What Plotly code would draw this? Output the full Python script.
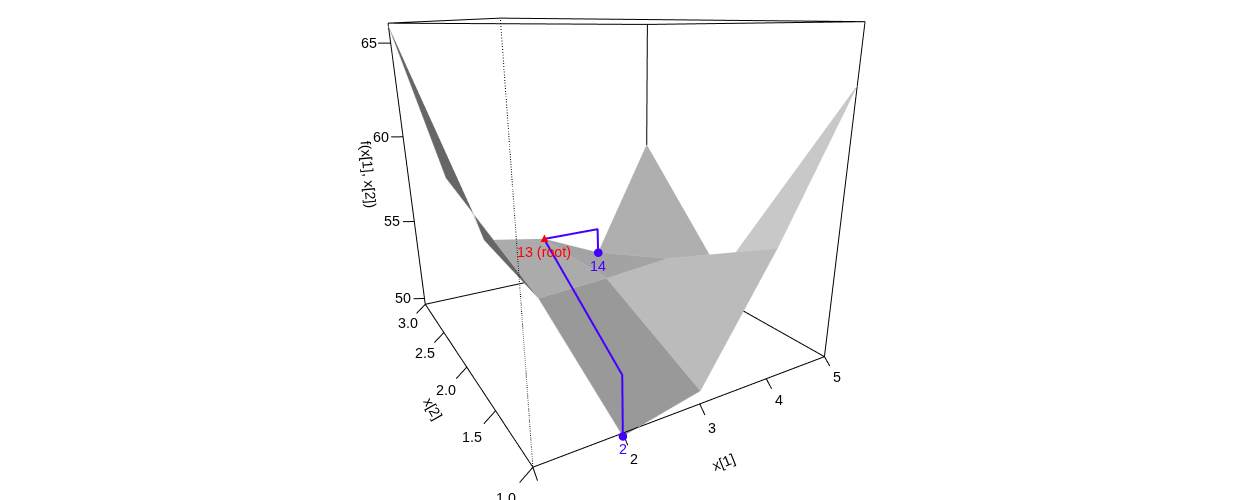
import plotly.graph_objects as go

# ---- data ----------------------------------------------------------------
x1_values = [1, 2, 3, 4, 5]
x2_values = [1, 2, 3]
# f(x[1], x[2]): rows follow x2_values, columns follow x1_values (None: not drawn)
z_row_x2_1 = [None, 49.44, 50.29, 56.39, 63.33]
z_row_x2_2 = [59.39, 52.45, 52.69, 53.06, 51.23]
z_row_x2_3 = [65.85, 53.09, 52.44, 50.68, 58.02]
z_grid = [z_row_x2_1, z_row_x2_2, z_row_x2_3]

# one grey per grid cell (rows follow x2 cells, columns follow x1 cells)
cell_grey_x2_12 = [None, "#999999", "#bbbbbb", "#c8c8c8"]
cell_grey_x2_23 = ["#666666", "#ababab", "#a3a3a3", "#afafaf"]
cell_grey = [cell_grey_x2_12, cell_grey_x2_23]

x1_ticks = [1, 2, 3, 4, 5]
x2_ticks = [1.0, 1.5, 2.0, 2.5, 3.0]
z_ticks = [50, 55, 60, 65]
box_x1 = (1, 5)
box_x2 = (1, 3)
box_z = (49.6, 66.0)

root_point = (3, 3, 52.44)
child_14 = (4, 3, 50.68)
child_2 = (2, 1, 49.44)

BLUE = "#4400ff"
RED = "#ff0000"
FONT = "Liberation Sans"
FS = 14.3

# ---- view --------------------------------------------------------------
RANGE_X = [0, 6]
RANGE_Y = [0, 4]
RANGE_Z = [40, 72]
scale = (0.25943, 0.55719, 0.06376)
aspect = dict(x=scale[0] * 6, y=scale[1] * 4, z=scale[2] * 32)
camera = dict(
    eye=dict(x=-0.9384, y=-1.7403, z=0.6171),
    center=dict(x=0.0312, y=-0.1558, z=-0.0612),
    up=dict(x=-0.0068, y=0.0142, z=1.0),
    projection=dict(type="perspective"),
)
hidden = dict(visible=False, showspikes=False)


def scene_layout():
    return dict(
        domain=dict(x=[0.026, 1], y=[0, 1]),
        xaxis=dict(range=RANGE_X, **hidden),
        yaxis=dict(range=RANGE_Y, **hidden),
        zaxis=dict(range=RANGE_Z, **hidden),
        aspectmode="manual",
        aspectratio=aspect,
        camera=camera,
        bgcolor="rgba(0,0,0,0)",
    )


# ---- surface -----------------------------------------------------------
vx, vy, vz, index = [], [], [], {}
for j, x2 in enumerate(x2_values):
    for i, x1 in enumerate(x1_values):
        if z_grid[j][i] is not None:
            index[(i, j)] = len(vx)
            vx.append(x1)
            vy.append(x2)
            vz.append(z_grid[j][i])

ti, tj, tk, face_colors = [], [], [], []


def tri(a, b, c, colour):
    ti.append(a)
    tj.append(b)
    tk.append(c)
    face_colors.append(colour)


ex, ey, ez = [], [], []
for j in range(len(x2_values) - 1):
    for i in range(len(x1_values) - 1):
        colour = cell_grey[j][i]
        if colour is None:
            continue
        p00, p10, p11, p01 = index[(i, j)], index[(i + 1, j)], index[(i + 1, j + 1)], index[(i, j + 1)]
        for a in (p00, p10, p11, p01, p00):
            ex.append(vx[a])
            ey.append(vy[a])
            ez.append(vz[a])
        ex.append(None)
        ey.append(None)
        ez.append(None)
        if (i, j) == (0, 1):
            # this cell folds over itself in view: cut it where its outlines cross
            t = 0.27
            vx.append(vx[p00] + t * (vx[p10] - vx[p00]))
            vy.append(vy[p00] + t * (vy[p10] - vy[p00]))
            vz.append(vz[p00] + t * (vz[p10] - vz[p00]))
            cross = len(vx) - 1
            tri(p01, p00, cross, colour)
            tri(cross, p10, p11, colour)
        else:
            tri(p00, p10, p11, colour)
            tri(p00, p11, p01, colour)

fig = go.Figure()
fig.add_trace(go.Mesh3d(
    x=vx, y=vy, z=vz, i=ti, j=tj, k=tk, facecolor=face_colors, flatshading=True,
    lighting=dict(ambient=1, diffuse=0, specular=0, roughness=1, fresnel=0),
    hoverinfo="skip", showscale=False, scene="scene",
))
fig.add_trace(go.Scatter3d(
    x=ex, y=ey, z=ez, mode="lines", line=dict(color="#c9c9c9", width=1),
    hoverinfo="skip", scene="scene",
))

# ---- box ---------------------------------------------------------------
xa, xb = box_x1
ya, yb = box_x2
za, zb = box_z
solid_edges = [
    ((xa, ya, za), (xb, ya, za)), ((xa, ya, za), (xa, yb, za)),
    ((xa, yb, za), (xb, yb, za)), ((xb, ya, za), (xb, yb, za)),
    ((xa, ya, zb), (xb, ya, zb)), ((xa, ya, zb), (xa, yb, zb)),
    ((xa, yb, zb), (xb, yb, zb)), ((xb, ya, zb), (xb, yb, zb)),
    ((xb, ya, za), (xb, ya, zb)), ((xa, yb, za), (xa, yb, zb)),
    ((xb, yb, za), (xb, yb, zb)),
]
lx, ly, lz = [], [], []


def seg(p, q):
    lx.extend([p[0], q[0], None])
    ly.extend([p[1], q[1], None])
    lz.extend([p[2], q[2], None])


for p, q in solid_edges:
    seg(p, q)

annotations = []


def label(text, x, y, z, size=FS, colour="black", angle=0, dx=0, dy=0):
    annotations.append(dict(
        x=x, y=y, z=z, text=text, showarrow=False, textangle=angle,
        xanchor="center", yanchor="middle", xshift=dx, yshift=dy,
        font=dict(family=FONT, size=size, color=colour),
    ))


for v in x1_ticks:
    seg((v, ya, za), (v, ya - 0.047, za - 0.35))
    if v != x1_ticks[0]:
        label(str(v), v, ya - 0.107, za - 0.71)
for v in x2_ticks:
    seg((xa, v, za), (xa - 0.143, v, za - 0.48))
    label(f"{v:.1f}", xa - 0.29, v, za - 0.96)
for v in z_ticks:
    seg((xa, yb, v), (xa - 0.143, yb + 0.035, v))
    label(str(v), xa, yb, v, dx=-22)

fig.add_trace(go.Scatter3d(
    x=lx, y=ly, z=lz, mode="lines", line=dict(color="black", width=2),
    hoverinfo="skip", scene="scene",
))
fig.add_trace(go.Scatter3d(
    x=[xa, xa], y=[ya, ya], z=[za, zb], mode="lines",
    line=dict(color="black", width=2, dash="dot"), hoverinfo="skip", scene="scene",
))

label("x[1]", 3, ya, za, angle=-22, dx=24, dy=-58)
label("x[2]", xa, 2, za, angle=60, dx=-34, dy=-42)
label("f(x[1], x[2])", xa, yb, 57.8, angle=85, dx=-40)

# ---- tree path, drawn in a second scene so it stays above the surface ----
rx, ry, rz = root_point
px = [rx, child_14[0], child_14[0], None, rx, child_2[0], child_2[0]]
py = [ry, child_14[1], child_14[1], None, ry, child_2[1], child_2[1]]
pz = [rz, rz, child_14[2], None, rz, rz, child_2[2]]
fig.add_trace(go.Scatter3d(
    x=px, y=py, z=pz, mode="lines", line=dict(color=BLUE, width=4),
    hoverinfo="skip", scene="scene2",
))
fig.add_trace(go.Scatter3d(
    x=[child_14[0], child_2[0]], y=[child_14[1], child_2[1]], z=[child_14[2], child_2[2]],
    mode="markers", marker=dict(color=BLUE, size=5, symbol="circle", line=dict(width=0)),
    hoverinfo="skip", scene="scene2",
))
label("▲", rx, ry, rz, size=13, colour=RED, dy=1)
label("13 (root)", rx, ry, rz, colour=RED, dy=-13)
label("14", *child_14, colour=BLUE, dy=-13)
label("2", *child_2, colour=BLUE, dy=-13)

scene1 = scene_layout()
scene1["annotations"] = annotations
fig.update_layout(
    width=1242, height=500, margin=dict(l=0, r=0, t=0, b=0, pad=0),
    paper_bgcolor="white", showlegend=False, hovermode=False,
    scene=scene1, scene2=scene_layout(),
)
fig.write_html(
    "out.html", config=dict(displayModeBar=False),
    post_script="document.documentElement.style.overflow='hidden';document.body.style.margin='0';",
)
